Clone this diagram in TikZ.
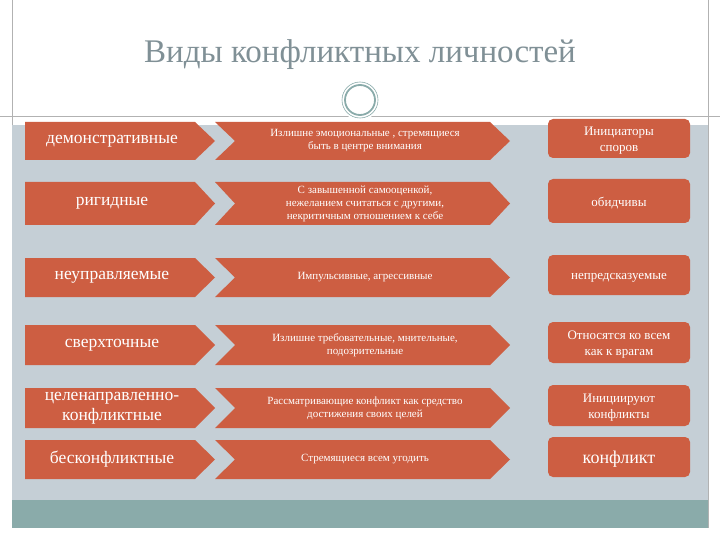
\documentclass[tikz,border=0pt]{standalone}
\usepackage{fontspec}
\setmainfont{Liberation Serif}
\definecolor{orng}{RGB}{205,94,66}
\definecolor{panel}{RGB}{197,207,214}
\definecolor{teal}{RGB}{138,171,170}
\definecolor{ttl}{RGB}{128,144,150}
\tikzset{
	lefttxt/.style={text=white, font=\fontsize{17.5}{20}\selectfont, align=center},
	midtxt/.style={text=white, font=\fontsize{11}{13}\selectfont, align=center},
	righttxt/.style={text=white, font=\fontsize{13}{16}\selectfont, align=center}
}
\begin{document}
\begin{tikzpicture}[x=1pt, y=-1pt, line join=round]
			\useasboundingbox (0,0) rectangle (720,540);
			\fill[white] (0,0) rectangle (720,540);
			\draw[gray!60] (12,0) -- (12,528) (708,0) -- (708,528) (0,116) -- (720,116);
			\fill[panel] (12,125) rectangle (708,500);
			\fill[teal] (12,500) rectangle (708,528);
			\node[text=ttl, font=\fontsize{33}{34}\selectfont] (title) at (360,55) {Виды конфликтных личностей};
			\fill[white] (360,100) circle (20);
			\draw[teal, line width=1.8pt] (360,100) circle (15);
			\draw[teal, line width=0.6pt] (360,100) circle (18);
			% rows: top, bottom, left text, middle text, right text
			\foreach \t/\b/\n/\L/\M/\R in {
				122/160/a/демонстративные/{Излишне эмоциональные , стремящиеся\\быть в центре внимания}/{Инициаторы\\споров},
				182/225/b/ригидные/{С завышенной самооценкой,\\нежеланием считаться с другими,\\некритичным отношением к себе}/обидчивы,
				258/297/c/неуправляемые/{Импульсивные, агрессивные}/непредсказуемые,
				325/365/d/сверхточные/{Излишне требовательные, мнительные,\\подозрительные}/{Относятся ко всем\\как к врагам},
				388/428/e/{целенаправленно-\\конфликтные}/{Рассматривающие конфликт как средство\\достижения своих целей}/{Инициируют\\конфликты},
				440/479/f/бесконфликтные/{Стремящиеся всем угодить}/{\fontsize{18}{20}\selectfont конфликт}}{
				\fill[orng] (25,\t) -- (195,\t) -- (215,{(\t+\b)/2}) -- (195,\b) -- (25,\b) -- cycle;
				\fill[orng] (215,\t) -- (490,\t) -- (510,{(\t+\b)/2}) -- (490,\b) -- (215,\b) -- (235,{(\t+\b)/2}) -- cycle;
				\fill[orng, rounded corners=5pt] (548,{\t-3}) rectangle (690,{\b-2});
				\node[lefttxt] (l\n) at (112,{(\t+\b)/2}) {\L};
				\node[midtxt] (m\n) at (365,{(\t+\b)/2}) {\M};
				\node[righttxt] (r\n) at (619,{(\t+\b)/2}) {\R};
			}
		\end{tikzpicture}
\end{document}
